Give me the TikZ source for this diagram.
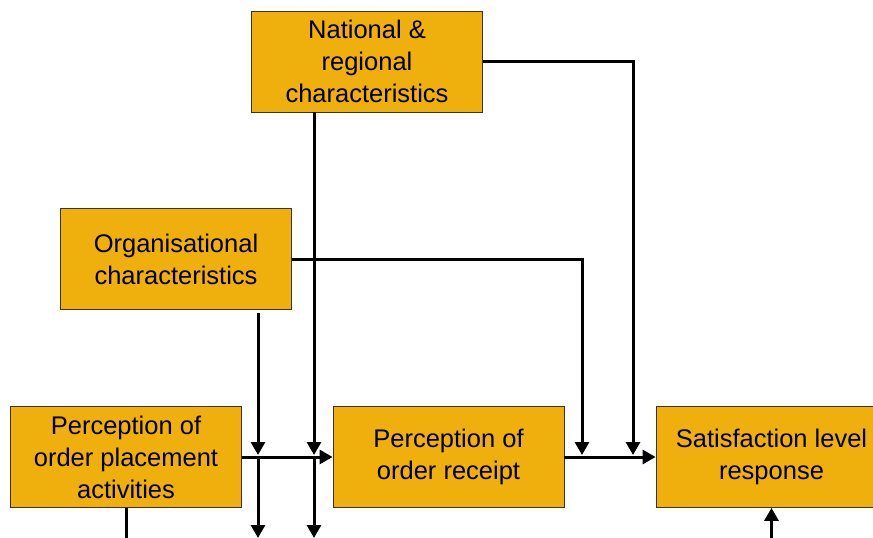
\documentclass[tikz,border=0pt]{standalone}
\usepackage{fontspec}
\setmainfont{Liberation Sans}
\usetikzlibrary{arrows.meta}
\definecolor{boxfill}{RGB}{239,175,12}
\definecolor{boxline}{RGB}{60,50,30}
\begin{document}
\begin{tikzpicture}[x=1pt,y=-1pt,
  box/.style={draw=boxline,line width=0.8pt,fill=boxfill,inner sep=0pt,
    minimum width=231pt,minimum height=101pt,align=center,
    font=\fontsize{25.5}{32}\selectfont},
  wire/.style={line width=3pt,draw=black},
  conn/.style={wire,-{Triangle[length=13pt,width=14pt]}}]
\useasboundingbox (0,0) rectangle (873,538);
\clip (0,0) rectangle (873,538);

% boxes
\node[box] (nat)   at (367,61.5)    {National \&\\regional\\characteristics};
\node[box] (org)   at (176,259)     {Organisational\\characteristics};
\node[box] (place) at (126,457)     {Perception of\\order placement\\activities};
\node[box] (rec)   at (448.5,457)   {Perception of\\order receipt};
\node[box] (sat)   at (771.5,457)   {Satisfaction level\\response};

% helper coordinates for the drop lines
\coordinate (natx)    at (314,0);
\coordinate (natjoin) at (314,455);
\coordinate (natmid)  at (314,459);
\coordinate (natout)  at (314,538);
\coordinate (orgtop)  at (258,313);
\coordinate (orgjoin) at (258,455);
\coordinate (orgmid)  at (258,459);
\coordinate (orgout)  at (258,538);
\coordinate (natdrop) at (633,455);
\coordinate (orgdrop) at (582,455);
\coordinate (placeout) at (126,538);
\coordinate (satin)   at (771.5,538);

% main flow
\draw[conn] (place.east) -- (rec.west);
\draw[conn] (rec.east) -- (sat.west);

% influences from the characteristics
\draw[conn] (nat.east) -| (natdrop);
\draw[conn] (org.east) -| (orgdrop);
\draw[conn] (nat.south -| natx) -- (natjoin);
\draw[conn] (natmid) -- (natout);
\draw[conn] (orgtop) -- (orgjoin);
\draw[conn] (orgmid) -- (orgout);

% lines leaving and entering at the bottom
\draw[wire] (place.south) -- (placeout);
\draw[conn] (satin) -- (sat.south);
\end{tikzpicture}
\end{document}
